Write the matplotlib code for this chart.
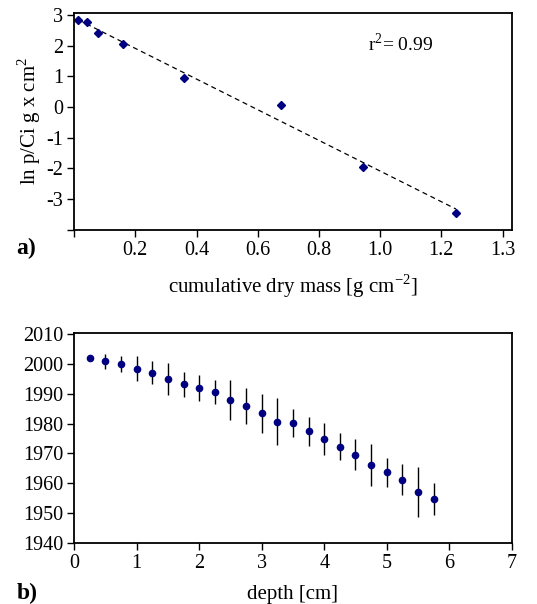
import numpy as np
import matplotlib
matplotlib.use("Agg")
import matplotlib.pyplot as plt

plt.rcParams['font.family'] = ['Liberation Serif', 'DejaVu Serif']
plt.rcParams['mathtext.fontset'] = 'custom'
plt.rcParams['mathtext.rm'] = 'Liberation Serif'
plt.rcParams['font.size'] = 14

# panel a: ln activity vs cumulative dry mass
mass = [0.014, 0.041, 0.077, 0.161, 0.360, 0.677, 0.943, 1.248]
ln_act = [2.83, 2.77, 2.40, 2.05, 0.95, 0.05, -1.96, -3.45]
mass_ticks = [0.2, 0.4, 0.6, 0.8, 1.0, 1.2, 1.4]
mass_labels = ["0.2", "0.4", "0.6", "0.8", "1.0", "1.2", "1.3"]

# panel b: age vs depth
depth = [0.25, 0.5, 0.75, 1.0, 1.25, 1.5, 1.75, 2.0, 2.25, 2.5, 2.75, 3.0,
         3.25, 3.5, 3.75, 4.0, 4.25, 4.5, 4.75, 5.0, 5.25, 5.5, 5.75]
year = [2001.9, 2000.9, 1999.9, 1998.4, 1997.1, 1995.0, 1993.2, 1991.9,
        1990.6, 1988.0, 1985.9, 1983.4, 1980.7, 1980.1, 1977.4, 1974.8,
        1972.3, 1969.6, 1966.0, 1963.6, 1961.2, 1956.9, 1954.6]
year_err = [0.0, 2.5, 2.7, 4.2, 3.8, 5.5, 4.1, 4.3, 4.1, 6.7, 6.0, 6.7,
            7.9, 4.7, 4.9, 5.3, 4.4, 5.1, 7.1, 4.9, 5.1, 8.4, 5.3]

navy = '#000080'
fig = plt.figure(figsize=(5.37, 6.04), dpi=100)

# ---- panel a
ax1 = fig.add_axes([0.138, 0.620, 0.815, 0.359])
slope, icpt = np.polyfit(mass, ln_act, 1)
xl = np.array([mass[0], mass[-1]])
ax1.plot(xl, slope * xl + icpt, '--', color='black', lw=0.9, dashes=(4, 3))
ax1.plot(mass, ln_act, 'D', color=navy, ms=4.5)
ax1.set_xlim(0, 1.43)
ax1.set_ylim(-3.98, 3.07)
ax1.set_xticks([0] + mass_ticks)
ax1.set_xticklabels([""] + mass_labels)
ax1.set_yticks([-4, -3, -2, -1, 0, 1, 2, 3])
ax1.set_yticklabels(["", "-3", "-2", "-1", "0", "1", "2", "3"])
ax1.set_xlabel("cumulative dry mass [g cm$^{-2}$]", fontsize=15, labelpad=9)
ax1.set_ylabel("ln p/Ci g x cm$^{2}$", fontsize=15, labelpad=2)
ax1.text(0.672, 0.855, "r$^{2}$= 0.99", transform=ax1.transAxes,
         fontsize=14, va='center')
fig.text(0.031, 0.589, "a)", fontsize=17, fontweight='bold', va='center')

# ---- panel b
ax2 = fig.add_axes([0.138, 0.1015, 0.815, 0.3465])
ax2.errorbar(depth, year, yerr=year_err, fmt='o', color=navy, ms=4.5,
             ecolor='black', elinewidth=1.0, capsize=0)
ax2.set_xlim(0, 7)
ax2.set_ylim(1940.7, 2010.3)
ax2.set_xticks(range(0, 8))
ax2.set_yticks(range(1940, 2011, 10))
ax2.set_xlabel("depth [cm]", fontsize=15, labelpad=9)
fig.text(0.031, 0.018, "b)", fontsize=17, fontweight='bold', va='center')

for ax in (ax1, ax2):
    for s in ax.spines.values():
        s.set_linewidth(1.3)
    ax.tick_params(direction='out', length=5, width=1.0, labelsize=14.5,
                   pad=3)

fig.savefig("out.png", dpi=100)
